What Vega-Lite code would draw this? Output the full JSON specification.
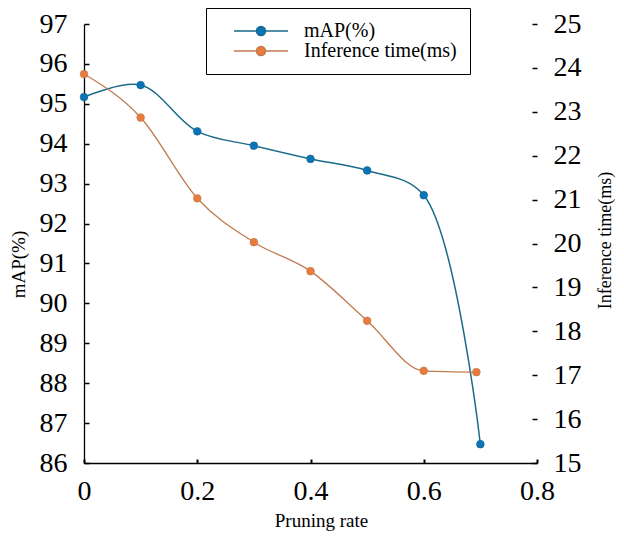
{
  "$schema": "https://vega.github.io/schema/vega-lite/v6.json",
  "width": 453,
  "height": 439,
  "autosize": "none",
  "padding": {"left": 84, "top": 24, "right": 87, "bottom": 77},
  "background": "white",
  "config": {
    "font": "Liberation Serif",
    "view": {"stroke": null},
    "axis": {"grid": false, "labelColor": "black", "titleColor": "black", "titleFontWeight": "normal", "domainColor": "black", "tickColor": "black", "labelFont": "Liberation Serif", "titleFont": "Liberation Serif"}
  },
  "data": {"values": [
    {"rate": 0.0, "series": "mAP(%)", "value": 95.17},
    {"rate": 0.1, "series": "mAP(%)", "value": 95.47},
    {"rate": 0.2, "series": "mAP(%)", "value": 94.31},
    {"rate": 0.3, "series": "mAP(%)", "value": 93.95},
    {"rate": 0.4, "series": "mAP(%)", "value": 93.62},
    {"rate": 0.5, "series": "mAP(%)", "value": 93.33},
    {"rate": 0.6, "series": "mAP(%)", "value": 92.71},
    {"rate": 0.7, "series": "mAP(%)", "value": 86.47},
    {"rate": 0.0, "series": "Inference time(ms)", "value": 23.86},
    {"rate": 0.1, "series": "Inference time(ms)", "value": 22.87},
    {"rate": 0.2, "series": "Inference time(ms)", "value": 21.03},
    {"rate": 0.3, "series": "Inference time(ms)", "value": 20.03},
    {"rate": 0.4, "series": "Inference time(ms)", "value": 19.37},
    {"rate": 0.5, "series": "Inference time(ms)", "value": 18.24},
    {"rate": 0.6, "series": "Inference time(ms)", "value": 17.1},
    {"rate": 0.693, "series": "Inference time(ms)", "value": 17.07}
  ]},
  "encoding": {
    "x": {"field": "rate", "type": "quantitative",
      "scale": {"domain": [0, 0.8], "nice": false, "zero": false},
      "axis": {"values": [0, 0.2, 0.4, 0.6, 0.8], "labelExpr": "datum.value === 0 ? '0' : format(datum.value, '.1f')", "title": "Pruning rate", "labelFont": "Liberation Serif", "titleFont": "Liberation Serif", "labelColor": "black", "titleColor": "black", "labelFontSize": 28, "titleFontSize": 19, "tickSize": -4, "tickWidth": 2, "domainWidth": 1.3, "labelPadding": 18, "labelFlush": false, "labelOverlap": false, "titleX": 237, "titleY": 57, "titleBaseline": "middle", "titleAlign": "center"}
    }
  },
  "layer": [
    {
      "transform": [{"filter": "datum.series === 'mAP(%)'"}],
      "encoding": {
        "y": {"field": "value", "type": "quantitative",
          "scale": {"domain": [86, 97], "nice": false, "zero": false},
          "axis": {"orient": "left", "values": [86, 87, 88, 89, 90, 91, 92, 93, 94, 95, 96, 97], "title": "mAP(%)", "labelFont": "Liberation Serif", "titleFont": "Liberation Serif", "labelColor": "black", "titleColor": "black", "labelFontSize": 28, "titleFontSize": 19, "tickSize": -5, "tickWidth": 1.5, "domainWidth": 1.3, "labelPadding": 22, "labelOverlap": false, "labelFlush": false, "titleX": -66, "titleY": 240, "titleAngle": -90, "titleBaseline": "middle", "titleAlign": "center"}
        }
      },
      "layer": [
        {"mark": {"type": "line", "interpolate": "catmull-rom", "strokeWidth": 1.5},
         "encoding": {"color": {"field": "series", "type": "nominal",
           "scale": {"domain": ["mAP(%)", "Inference time(ms)"], "range": ["#1B6A8A", "#C07B50"]},
           "legend": {"orient": "none", "legendX": 122, "legendY": -16, "title": null,
             "strokeColor": "black", "padding": 13, "symbolOffset": 14, "labelOffset": 15,
             "labelFontSize": 20, "labelFont": "Liberation Serif", "labelColor": "black",
             "labelExpr": "datum.label + '\u00a0\u00a0\u00a0\u00a0'",
             "symbolType": "M-1,0L-0.167,0M0.167,0L1,0M-0.167,0A0.167,0.167,0,1,0,0.167,0A0.167,0.167,0,1,0,-0.167,0Z",
             "symbolSize": 2916, "symbolStrokeWidth": 1.5, "clipHeight": 20, "rowPadding": 0,
             "fillColor": "white",
             "encode": {"symbols": {"update": {"fill": [{"test": "datum.value === 'mAP(%)'", "value": "#0A74B8"}, {"value": "#E97B3C"}], "fillOpacity": {"value": 1}}}}
           }}}},
        {"mark": {"type": "circle", "size": 60, "opacity": 1, "color": "#0A74B8", "stroke": "#1B6A8A", "strokeWidth": 0.6}}
      ]
    },
    {
      "transform": [{"filter": "datum.series === 'Inference time(ms)'"}],
      "encoding": {
        "y": {"field": "value", "type": "quantitative",
          "scale": {"domain": [15, 25], "nice": false, "zero": false},
          "axis": {"orient": "right", "values": [15, 16, 17, 18, 19, 20, 21, 22, 23, 24, 25], "title": "Inference time(ms)", "labelFont": "Liberation Serif", "titleFont": "Liberation Serif", "labelColor": "black", "titleColor": "black", "labelFontSize": 28, "titleFontSize": 18, "tickSize": -5, "tickWidth": 1.5, "domain": false, "labelPadding": 21, "labelOverlap": false, "labelFlush": false, "titleX": 68, "titleY": 216, "titleAngle": -90, "titleBaseline": "middle", "titleAlign": "center"}
        }
      },
      "layer": [
        {"mark": {"type": "line", "interpolate": "monotone", "strokeWidth": 1.3},
         "encoding": {"color": {"field": "series", "type": "nominal"}}},
        {"mark": {"type": "circle", "size": 60, "opacity": 1, "color": "#E97B3C", "stroke": "#C07B50", "strokeWidth": 0.6}}
      ]
    }
  ],
  "resolve": {"scale": {"y": "independent"}}
}
